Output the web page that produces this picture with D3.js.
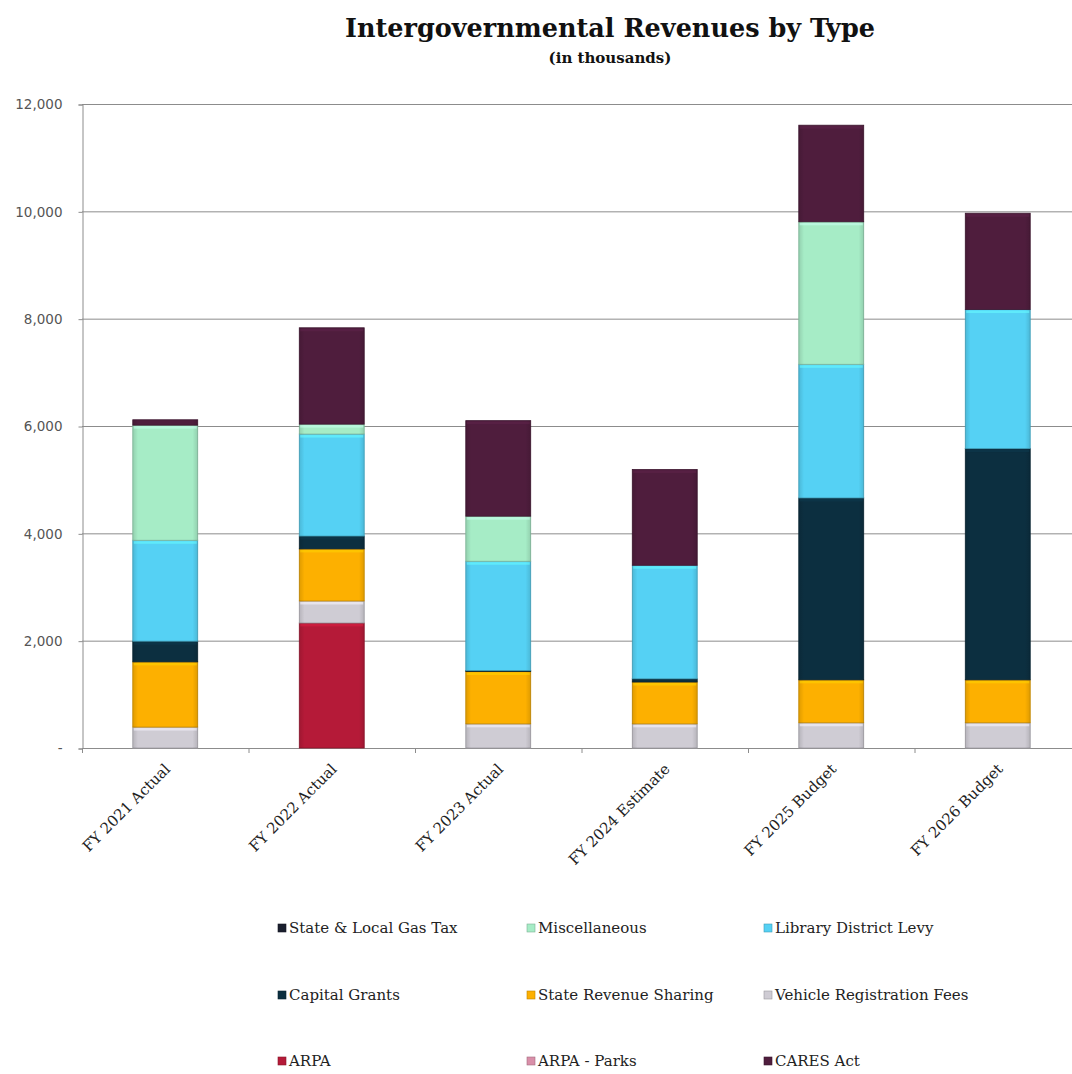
<!DOCTYPE html>
<html><head><meta charset="utf-8">
<script src="https://cdn.jsdelivr.net/npm/d3@7"></script>
<style>
body{margin:0;background:#fff;}
svg text{font-family:"DejaVu Serif","Liberation Serif",serif;}
</style></head>
<body><svg id="c" width="1072" height="1074"></svg>
<script>
const categories = ["FY 2021 Actual","FY 2022 Actual","FY 2023 Actual","FY 2024 Estimate","FY 2025 Budget","FY 2026 Budget"];
// stacking order bottom -> top
const arpa            = [0, 2330, 0, 0, 0, 0];
const vehicleReg      = [390, 410, 450, 450, 470, 470];
const arpaParks       = [0, 0, 0, 0, 0, 0];
const stateRevSharing = [1215, 970, 975, 780, 800, 800];
const capitalGrants   = [386, 240, 20, 60, 3390, 4310];
const gasTax          = [0, 0, 0, 0, 0, 0];
const libraryLevy     = [1880, 1900, 2035, 2115, 2490, 2590];
const miscellaneous   = [2145, 185, 840, 0, 2655, 0];
const caresAct        = [100, 1795, 1780, 1785, 1800, 1795];
const yTicks = [0, 2000, 4000, 6000, 8000, 10000, 12000];
const legendOrder = ["State & Local Gas Tax","Miscellaneous","Library District Levy","Capital Grants","State Revenue Sharing","Vehicle Registration Fees","ARPA","ARPA - Parks","CARES Act"];

const series = [
  {name:"ARPA", values:arpa, color:"#b51a38"},
  {name:"Vehicle Registration Fees", values:vehicleReg, color:"#cfccd4"},
  {name:"ARPA - Parks", values:arpaParks, color:"#d98fa9"},
  {name:"State Revenue Sharing", values:stateRevSharing, color:"#fdb000"},
  {name:"Capital Grants", values:capitalGrants, color:"#0c2f40"},
  {name:"State & Local Gas Tax", values:gasTax, color:"#1a1f2e"},
  {name:"Library District Levy", values:libraryLevy, color:"#55d1f4"},
  {name:"Miscellaneous", values:miscellaneous, color:"#a6ecc6"},
  {name:"CARES Act", values:caresAct, color:"#4f1d3d"}
];
const colorOf = Object.fromEntries(series.map(s=>[s.name,s.color]));

const svg = d3.select("#c");
const pLeft = 82, pRight = 1081, pTop = 104, pBottom = 748;

const x = d3.scaleBand().domain(categories).range([pLeft, pRight]).paddingInner(0.61).paddingOuter(0.305);
const xStep = d3.scaleBand().domain(categories).range([pLeft, pRight]);
const y = d3.scaleLinear().domain([0, 12000]).range([pBottom, pTop]);

// title
svg.append("text").attr("x", 610).attr("y", 37).attr("text-anchor","middle")
  .style("font-weight","bold").style("font-size","25.5px").attr("fill","#111")
  .text("Intergovernmental Revenues by Type");
svg.append("text").attr("x", 610).attr("y", 63).attr("text-anchor","middle")
  .style("font-weight","bold").style("font-size","15px").attr("fill","#111")
  .text("(in thousands)");

// gridlines
svg.append("g").selectAll("line").data(yTicks.filter(d=>d>0)).join("line")
  .attr("x1", pLeft).attr("x2", pRight).attr("y1", d=>y(d)+0.5).attr("y2", d=>y(d)+0.5)
  .attr("stroke","#8c8c8c").attr("stroke-width",1);

// y axis
const yAxis = d3.axisLeft(y).tickValues(yTicks).tickSize(4).tickPadding(16)
  .tickFormat(d => d === 0 ? "-" : d3.format(",")(d));
const gy = svg.append("g").attr("transform",`translate(${pLeft+0.5},0.5)`).call(yAxis);
gy.select(".domain").attr("stroke","#8c8c8c");
gy.selectAll(".tick line").attr("stroke","#8c8c8c");
gy.selectAll("text").style("font-family","'DejaVu Sans',sans-serif").style("font-size","13.5px").attr("fill","#555");

// x axis line and between-category ticks
svg.append("line").attr("x1",pLeft).attr("x2",pRight).attr("y1",pBottom+0.5).attr("y2",pBottom+0.5).attr("stroke","#8c8c8c");
svg.append("g").selectAll("line").data(categories.slice(1)).join("line")
  .attr("x1", d=>xStep(d)+0.5).attr("x2", d=>xStep(d)+0.5).attr("y1", pBottom).attr("y2", pBottom+5)
  .attr("stroke","#8c8c8c");
svg.append("line").attr("x1",pLeft+0.5).attr("x2",pLeft+0.5).attr("y1",pBottom).attr("y2",pBottom+5).attr("stroke","#8c8c8c");

// x labels
svg.append("g").selectAll("text").data(categories).join("text")
  .attr("transform", d=>`translate(${x(d)+x.bandwidth()/2+6},${pBottom+22}) rotate(-45)`)
  .attr("text-anchor","end")
  .style("font-size","15px").attr("fill","#222")
  .text(d=>d);

// stacks
const table = categories.map((c,i)=>{ const o={cat:c}; series.forEach(s=>o[s.name]=s.values[i]); return o; });
const stack = d3.stack().keys(series.map(s=>s.name));
const stacked = stack(table);

const defs = svg.append("defs");
const grad = defs.append("linearGradient").attr("id","shine").attr("x1",0).attr("x2",1).attr("y1",0).attr("y2",0);
grad.append("stop").attr("offset","0%").attr("stop-color","#000").attr("stop-opacity",0.12);
grad.append("stop").attr("offset","8%").attr("stop-color","#000").attr("stop-opacity",0);
grad.append("stop").attr("offset","92%").attr("stop-color","#000").attr("stop-opacity",0);
grad.append("stop").attr("offset","100%").attr("stop-color","#000").attr("stop-opacity",0.12);

const gBars = svg.append("g");
stacked.forEach(layer=>{
  const col = colorOf[layer.key];
  const g = gBars.append("g");
  const segs = layer.filter(d=>d[1]-d[0]>0);
  g.selectAll("rect.f").data(segs).join("rect").attr("class","f")
    .attr("x", d=>x(d.data.cat)).attr("width", x.bandwidth())
    .attr("y", d=>y(d[1])).attr("height", d=>Math.max(0.5, y(d[0])-y(d[1])))
    .attr("fill", col).attr("stroke", d3.color(col).darker(0.7)).attr("stroke-width",0.8);
  g.selectAll("rect.s").data(segs).join("rect").attr("class","s")
    .attr("x", d=>x(d.data.cat)).attr("width", x.bandwidth())
    .attr("y", d=>y(d[1])).attr("height", d=>Math.max(0.5, y(d[0])-y(d[1])))
    .attr("fill","url(#shine)");
  g.selectAll("rect.h").data(segs.filter(d=>y(d[0])-y(d[1])>6)).join("rect").attr("class","h")
    .attr("x", d=>x(d.data.cat)+1).attr("width", x.bandwidth()-2)
    .attr("y", d=>y(d[1])+1).attr("height", 2.5)
    .attr("fill", d3.color(col).brighter(0.5)).attr("opacity",0.6);
});

// legend
const legX = [278, 527, 764], legY = [928, 995, 1061];
const lg = svg.append("g");
legendOrder.forEach((name,i)=>{
  const cx = legX[i%3], cy = legY[Math.floor(i/3)];
  lg.append("rect").attr("x",cx).attr("y",cy-4).attr("width",8).attr("height",8)
    .attr("fill",colorOf[name]).attr("stroke",d3.color(colorOf[name]).darker(0.8)).attr("stroke-width",0.6);
  lg.append("text").attr("x",cx+11).attr("y",cy+5).style("font-size","15px").attr("fill","#222").text(name);
});
</script></body></html>
